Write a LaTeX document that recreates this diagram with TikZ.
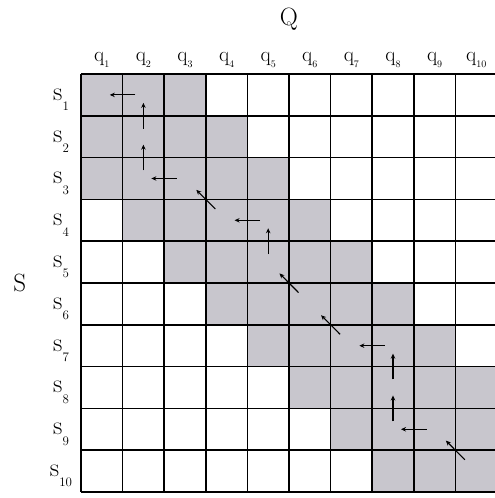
\documentclass[tikz,border=0pt]{standalone}
\usetikzlibrary{arrows.meta}
\newcommand\qsub[1]{\raisebox{-0.25em}{\fontsize{10}{10}\selectfont #1}}
\newcommand\ssub[1]{\raisebox{-0.4em}{\fontsize{13}{13}\selectfont #1}}
\definecolor{band}{RGB}{200,198,205}

\begin{document}
\begin{tikzpicture}[x=41.6pt,y=-41.8pt]
\tikzset{qlab/.style={font=\fontsize{21}{24}\selectfont,anchor=base},
  slab/.style={font=\fontsize{26}{28}\selectfont,anchor=base},
  axis/.style={font=\fontsize{25}{28}\selectfont},
  back/.style={line width=1.1pt,-{Stealth[length=5pt,width=4.5pt]},shorten <=8pt,shorten >=8pt},
  diag/.style={back,shorten <=16pt,shorten >=16pt}}
\useasboundingbox (-1.947,-1.770) rectangle (9.952,10.144);

% band of cells
\foreach \i in {1,...,10}
  \foreach \j in {1,...,10}{
    \coordinate (c\i-\j) at (\j-0.5,\i-0.5);
    \pgfmathtruncatemacro\d{abs(\i-\j)}
    \ifnum\d<3 \fill[band] (\j-1,\i-1) rectangle (\j,\i); \fi
  }
\foreach \k in {0,...,10}{
  \draw[line width=1.6pt] (\k,0) -- (\k,10);
  \draw[line width=1.6pt] (0,\k) -- (10,\k);
}

\foreach \j in {1,...,10}
  \node[qlab] (q\j) at (\j-0.5,-0.29) {q\qsub{\j}};
\foreach \i in {1,...,10}
  \node[slab] (s\i) at (-0.48,\i-0.37) {s\ssub{\i}};
\node[axis] (Q) at (5,-1.3) {Q};
\node[axis] (S) at (-1.47,5) {S};

% path back
\draw[back] (c1-2) -- (c1-1);
\draw[back] (c2-2) -- (c1-2);
\draw[back] (c3-2) -- (c2-2);
\draw[back] (c3-3) -- (c3-2);
\draw[diag] (c4-4) -- (c3-3);
\draw[back] (c4-5) -- (c4-4);
\draw[back] (c5-5) -- (c4-5);
\draw[diag] (c6-6) -- (c5-5);
\draw[diag] (c7-7) -- (c6-6);
\draw[back] (c7-8) -- (c7-7);
\draw[back] (c8-8) -- (c7-8);
\draw[back] (c9-8) -- (c8-8);
\draw[back] (c9-9) -- (c9-8);
\draw[diag] (c10-10) -- (c9-9);
\end{tikzpicture}
\end{document}
